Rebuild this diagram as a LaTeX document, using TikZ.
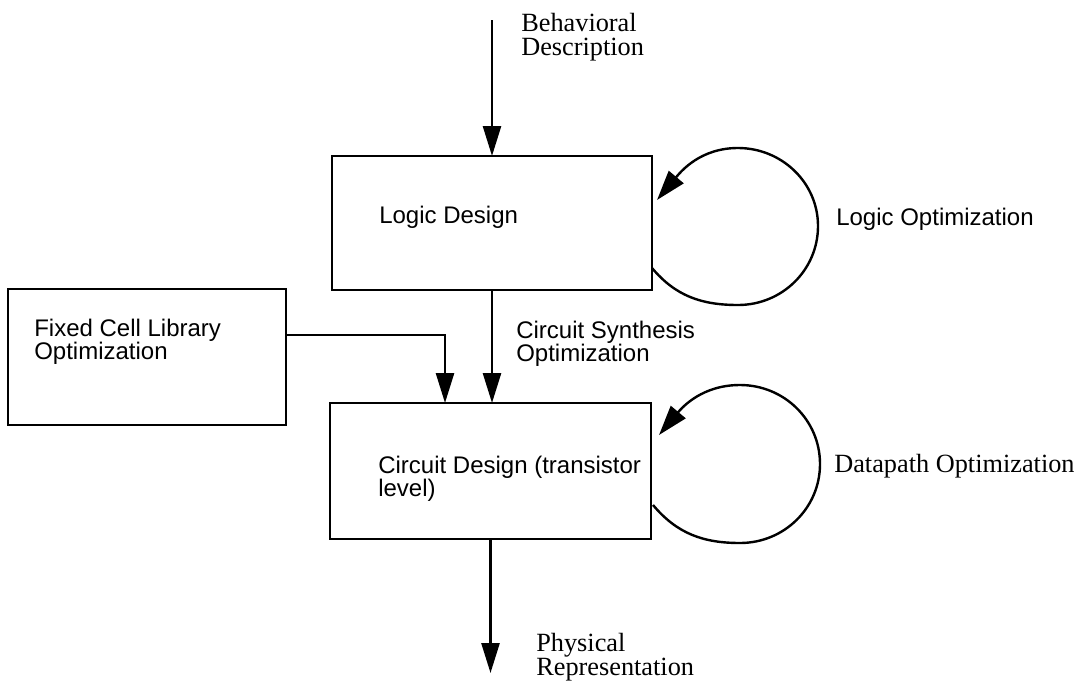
\documentclass[tikz,border=0pt]{standalone}
\usepackage{fontspec}
\setmainfont{Liberation Serif}
\setsansfont{Liberation Sans}
\usetikzlibrary{arrows.meta}
\begin{document}
\begin{tikzpicture}[x=1pt,y=-1pt,
  line width=2.6pt,
  box/.style={draw, rectangle, inner sep=0pt, outer sep=0pt},
  flow/.style={-{Triangle[length=30pt,width=18pt]}},
  selfloop/.style={-{Triangle[length=30pt,width=19pt]}, line width=2.4pt},
  sanslabel/.style={font=\sffamily\fontsize{24pt}{21.5pt}\selectfont, inner sep=0pt, align=left},
  seriflabel/.style={font=\rmfamily\fontsize{26.3pt}{24pt}\selectfont, inner sep=0pt, align=left}]
\useasboundingbox (0,0) rectangle (1081,681);

% design stages
\node[box, minimum width=320pt, minimum height=134pt] (logic) at (492,223) {};
\node[box, minimum width=321pt, minimum height=136pt] (circuit) at (490.5,471) {};
\node[box, minimum width=278pt, minimum height=136pt] (fixed) at (147,357) {};

% stage texts
\node[sanslabel, anchor=base west] (logictxt) at (378,223) {Logic Design};
\node[sanslabel, anchor=north west] (circtxt) at (377,454.5) {Circuit Design (transistor\\level)};
\node[sanslabel, anchor=north west] (fixedtxt) at (33,317.5) {Fixed Cell Library\\Optimization};

% edge labels
\node[sanslabel, anchor=north west] (synth) at (515,319.5) {Circuit Synthesis\\Optimization};
\node[sanslabel, anchor=base west] (logicopt) at (835,225) {Logic Optimization};
\node[seriflabel, anchor=base west] (dpopt) at (833,472) {Datapath Optimization};
\node[seriflabel, anchor=north west] (behav) at (520,12) {Behavioral\\Description};
\node[seriflabel, anchor=north west] (phys) at (535,632) {Physical\\Representation};

% free ends of the input and output arrows
\coordinate (src) at (492,20);
\coordinate (sink) at (490.5,673);

% main flow
\draw[flow] (src) -- (logic.north);
\draw[flow] (logic.south) -- (logic.south |- circuit.north);
\draw[flow] ([yshift=22pt]fixed.east) -| ([xshift=-45.5pt]circuit.north);
\draw[flow] (circuit.south) -- (sink);

% optimization loops
\coordinate (lb) at (738,305);
\coordinate (lr) at (818,226);
\coordinate (lt) at (738,148);
\draw[selfloop] ([yshift=-45pt]logic.east) to[out=-50,in=180] (lb)
  to[out=0,in=-90] (lr) to[out=90,in=0] (lt)
  to[out=180,in=50] ([xshift=5pt,yshift=23pt]logic.east);

\coordinate (cb) at (740,543);
\coordinate (cr) at (820,464);
\coordinate (ct) at (740,385);
\draw[selfloop] ([xshift=2pt,yshift=-34pt]circuit.east) to[out=-50,in=180] (cb)
  to[out=0,in=-90] (cr) to[out=90,in=0] (ct)
  to[out=180,in=50] ([xshift=8pt,yshift=36pt]circuit.east);
\end{tikzpicture}
\end{document}
